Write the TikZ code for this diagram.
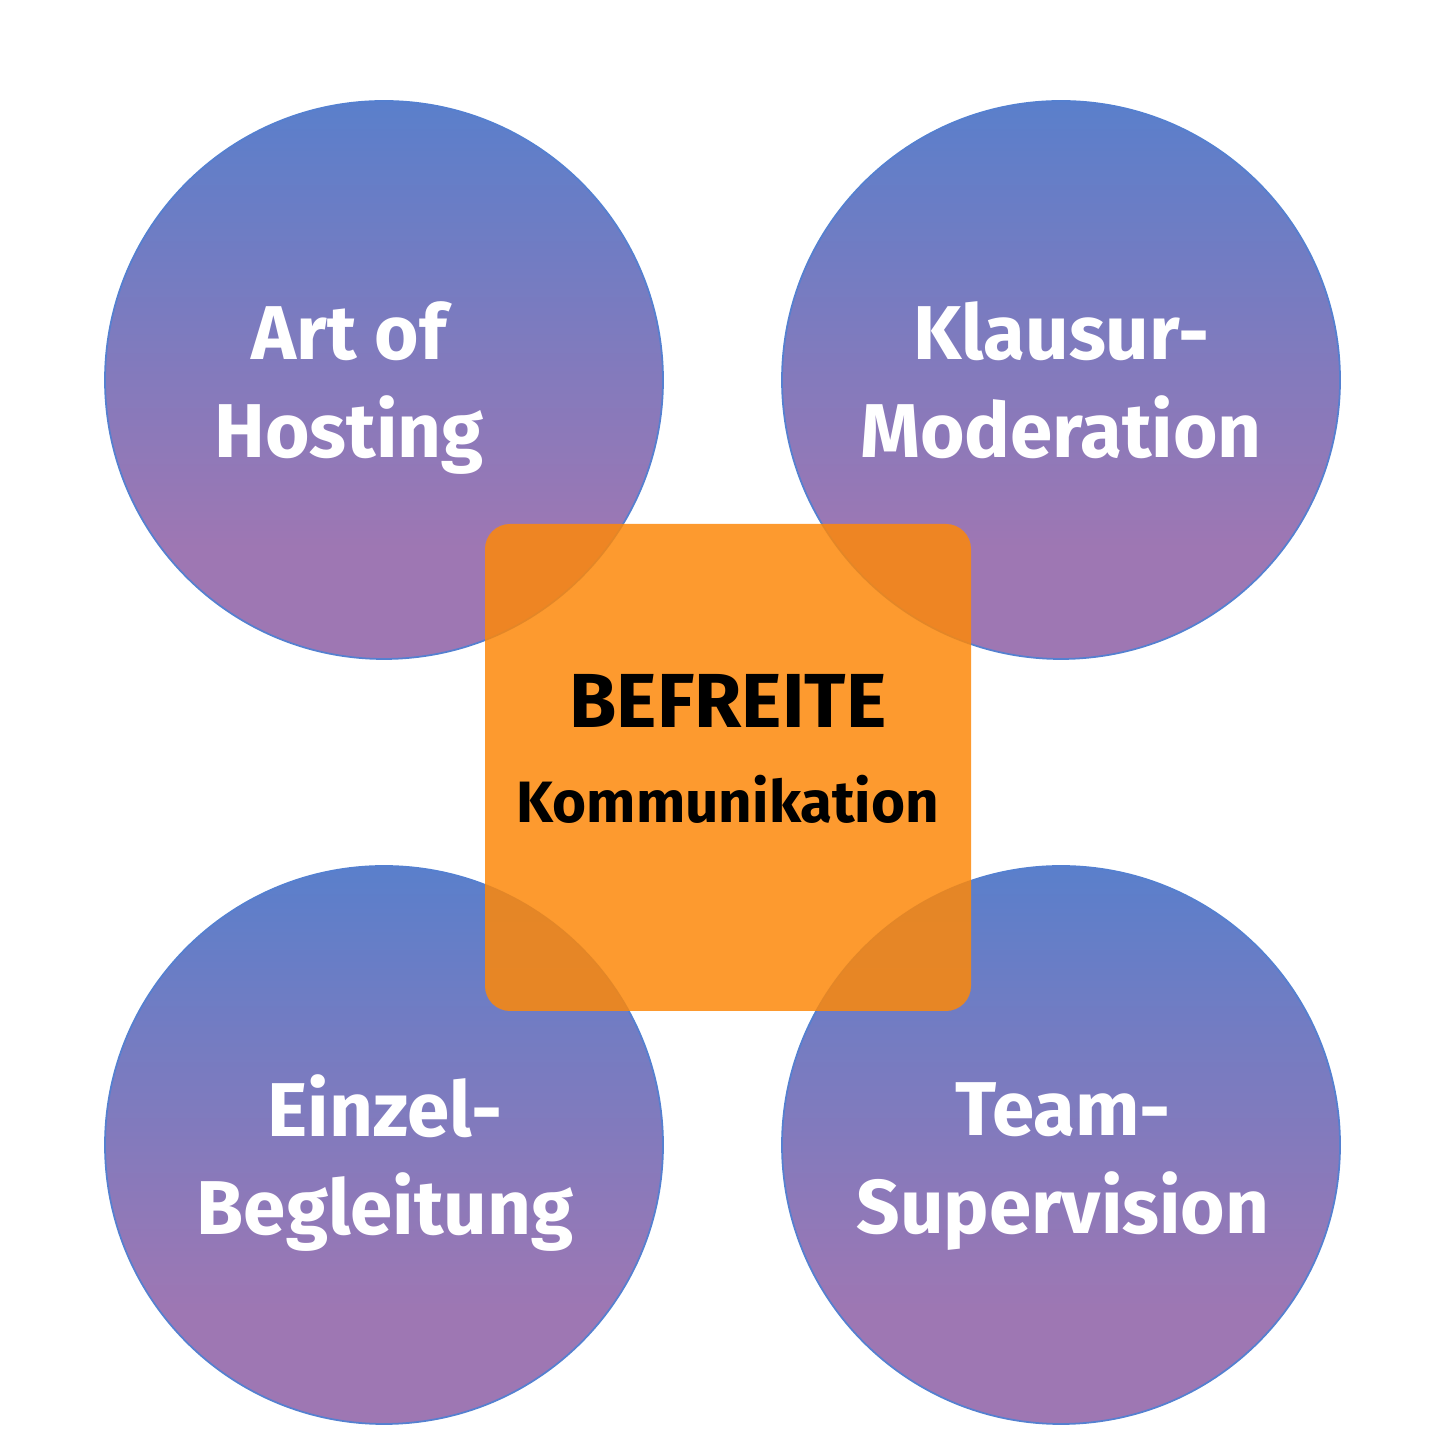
\documentclass[tikz,border=0pt]{standalone}
\usepackage{fontspec}
\setmainfont{Fira Sans}
\usetikzlibrary{positioning}
\definecolor{hblue}{HTML}{5A7FCB}
\definecolor{hpurple}{HTML}{9E77B3}
\definecolor{hedge}{HTML}{5580D0}
\definecolor{horange}{HTML}{FD880A}
\pgfdeclareverticalshading{bubblefill}{100bp}{color(0bp)=(hpurple); color(35bp)=(hpurple); color(75bp)=(hblue); color(100bp)=(hblue)}

\begin{document}
\begin{tikzpicture}[
      topic/.style={circle, draw=hedge, line width=0.5pt, shading=bubblefill, minimum size=5.58cm, inner sep=0pt},
      topictext/.style={anchor=base, align=center, text=white, font=\fontsize{21.7}{27.9}\selectfont\bfseries},
      core/.style={rectangle, rounded corners=0.25cm, fill=horange, fill opacity=0.85, minimum width=4.86cm, minimum height=4.87cm, inner sep=0pt}
    ]
    \useasboundingbox (0,0) rectangle (14.56,14.56);

    \node[topic] (aoh) at (3.84,10.76) {};
    \node[topic] (kla) at (10.61,10.76) {};
    \node[topic] (ein) at (3.84,3.11) {};
    \node[topic] (tea) at (10.61,3.11) {};

    \node[core] (mid) at (7.28,6.885) {};

    % anchor=base sits on the last line
    \node[topictext] (aohtext) at (3.49,9.98) {Art of\\Hosting};
    \node[topictext] (klatext) at (10.61,9.98) {Klausur-\\Moderation};
    \node[topictext] (eintext) at (3.85,2.21) {Einzel-\\Begleitung};
    \node[topictext] (teatext) at (10.63,2.22) {Team-\\Supervision};

    \node[anchor=base, align=center, font=\bfseries] (midtext) at (7.28,6.33)
      {{\fontsize{21.8}{26.5}\selectfont BEFREITE}\\[12.7pt]
       {\fontsize{16.6}{20}\selectfont Kommunikation}};
  \end{tikzpicture}
\end{document}
